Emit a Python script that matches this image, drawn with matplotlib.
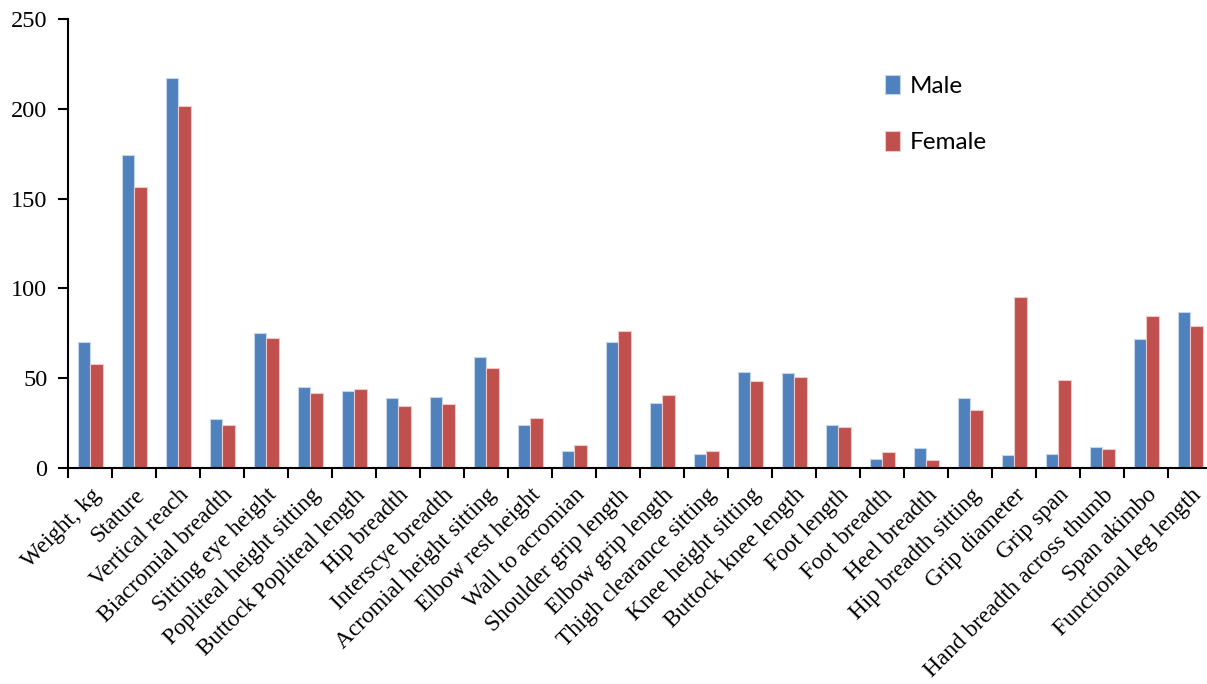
import matplotlib.pyplot as plt
import numpy as np
from matplotlib.ticker import FixedLocator

# anthropometric dimensions (cm, weight in kg)
dims = ['Weight, kg', 'Stature', 'Vertical reach', 'Biacromial breadth',
        'Sitting eye height', 'Popliteal height sitting', 'Buttock Popliteal length',
        'Hip breadth', 'Interscye breadth', 'Acromial height sitting',
        'Elbow rest height', 'Wall to acromian', 'Shoulder grip length',
        'Elbow grip length', 'Thigh clearance sitting', 'Knee height sitting',
        'Buttock knee length', 'Foot length', 'Foot breadth', 'Heel breadth',
        'Hip breadth sitting', 'Grip diameter', 'Grip span',
        'Hand breadth across thumb', 'Span akimbo', 'Functional leg length']
male = [70.1, 174.2, 217.0, 27.0, 75.0, 45.2, 42.6, 39.0, 39.4, 61.9,
        23.6, 9.1, 69.9, 35.9, 7.5, 53.2, 52.8, 23.6, 4.9, 11.0,
        38.7, 6.9, 7.8, 11.5, 71.6, 87.0]
female = [57.8, 156.6, 201.5, 23.8, 72.3, 41.5, 43.9, 34.2, 35.7, 55.4,
          27.9, 12.5, 76.1, 40.5, 9.3, 48.2, 50.6, 22.5, 8.8, 4.1,
          32.2, 95.0, 49.1, 10.4, 84.4, 79.0]

plt.rcParams['font.family'] = ['Liberation Serif', 'DejaVu Serif']

fig = plt.figure(figsize=(12.07, 6.84), dpi=100)
ax = fig.add_axes([68.3 / 1207, 216.3 / 684, 1144 / 1207, 448.4 / 684])

x = np.arange(len(dims))
w = 0.285
ax.bar(x - w / 2, male, w, color='#4F81BD', edgecolor='#c6d6ea', linewidth=0.8, label='Male')
ax.bar(x + w / 2, female, w, color='#C0504D', edgecolor='#eec9c8', linewidth=0.8, label='Female')

ax.set_xlim(-0.5, len(dims) - 0.5)
ax.set_ylim(0, 250)
ax.set_yticks(np.arange(0, 251, 50))
ax.tick_params(axis='y', direction='out', length=7, width=1.5, labelsize=17.5, pad=8)

# boundary ticks between categories, labels at the centres
ax.xaxis.set_major_locator(FixedLocator(np.arange(-0.5, len(dims), 1.0)))
ax.set_xticklabels([])
ax.xaxis.set_minor_locator(FixedLocator(x))
ax.set_xticklabels(dims, minor=True, rotation=45, ha='right',
                   rotation_mode='anchor', fontsize=16.8)
ax.tick_params(axis='x', which='major', direction='out', length=7, width=1.5)
ax.tick_params(axis='x', which='minor', length=0, pad=12)

for s in ['top', 'right']:
    ax.spines[s].set_visible(False)
for s in ['left', 'bottom']:
    ax.spines[s].set_linewidth(1.5)

ax.legend(loc='upper left', bbox_to_anchor=(885 / 1207, 1 - 75 / 684),
          bbox_transform=fig.transFigure, frameon=False,
          prop={'family': 'Lato', 'size': 17.5},
          handlelength=0.62, handleheight=0.85, handletextpad=0.4,
          labelspacing=1.4, borderpad=0, borderaxespad=0)

fig.savefig('out.png', dpi=100)
